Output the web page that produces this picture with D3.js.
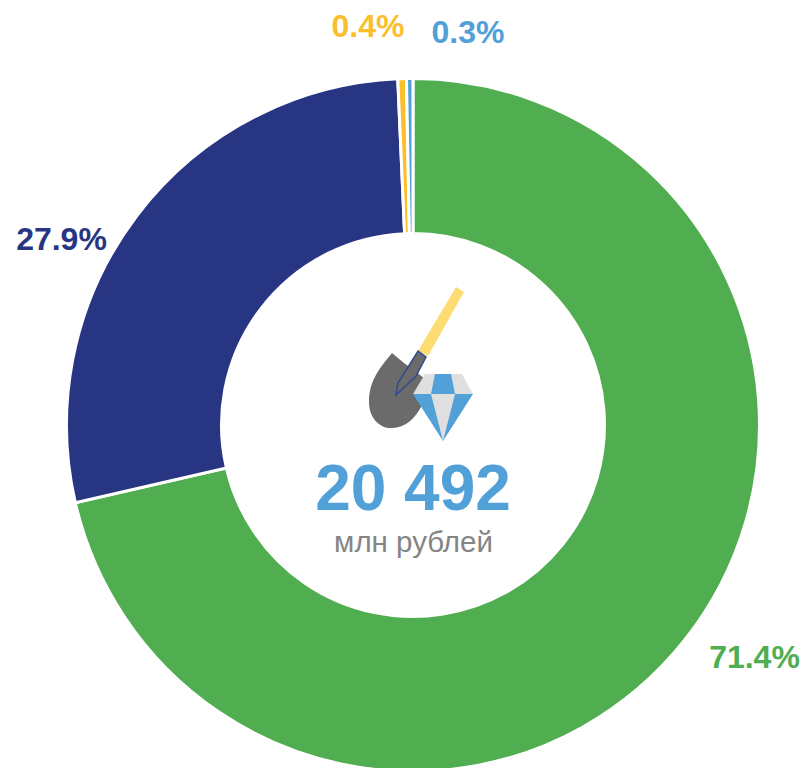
<!DOCTYPE html>
<html>
<head>
<meta charset="utf-8">
<script src="https://cdn.jsdelivr.net/npm/d3@7"></script>
<style>
  html, body { margin: 0; padding: 0; background: #fff; }
  svg { display: block; }
  text { font-family: "Liberation Sans", Arial, sans-serif; }
</style>
</head>
<body>
<div id="chart"></div>
<script>
const shares = [71.4, 27.9, 0.4, 0.3];
const shareLabels = ['71.4%', '27.9%', '0.4%', '0.3%'];
const sliceColors = ['#50ae50', '#283583', '#fbbf2e', '#52a0d8'];
const totalLabel = '20 492';
const unitLabel = 'млн рублей';

const width = 805, height = 768;
const cx = 413, cy = 425, outer = 346.5, inner = 191.5;
// label anchors, same order as shares
const labelPos = [[754.5, 668], [61.5, 250], [368, 37], [468, 43]];

const svg = d3.select('#chart').append('svg')
    .attr('width', width)
    .attr('height', height);

const pie = d3.pie().sort(null).value(d => d);
const arc = d3.arc().innerRadius(inner).outerRadius(outer);

svg.append('g')
    .attr('transform', 'translate(' + cx + ',' + cy + ')')
    .selectAll('path')
    .data(pie(shares))
    .enter().append('path')
    .attr('d', arc)
    .attr('fill', (d, i) => sliceColors[i])
    .attr('stroke', '#fff')
    .attr('stroke-width', 3);

svg.append('g')
    .selectAll('text')
    .data(shareLabels)
    .enter().append('text')
    .attr('x', (d, i) => labelPos[i][0])
    .attr('y', (d, i) => labelPos[i][1])
    .attr('text-anchor', 'middle')
    .attr('font-size', 32)
    .attr('font-weight', 700)
    .attr('fill', (d, i) => sliceColors[i])
    .text(d => d);

// shovel + diamond icon
const icon = svg.append('g');
icon.append('path').attr('d', 'M456 287 L464 292 L428 356 L418 351 Z').attr('fill', '#fedc74');
icon.append('path')
    .attr('d', 'M392 353 C378 370 369 382 369 402 C369 420 382 429 392 428 C405 428 416 418 422 405 L424 378 L404 363 Z')
    .attr('fill', '#6b6b6b');
icon.append('path')
    .attr('d', 'M418 351 L426 357 L416 376 L396 395 L398 383 Z')
    .attr('fill', '#6b6b6b').attr('stroke', '#2f4a8f').attr('stroke-width', 1.5);
icon.append('path').attr('d', 'M425 374 L462 374 L473 394 L413 394 Z').attr('fill', '#dfdfdf');
icon.append('path').attr('d', 'M435 374 L451 374 L455 394 L431 394 Z').attr('fill', '#52a0d8');
icon.append('path').attr('d', 'M413 394 L473 394 L443 441 Z').attr('fill', '#52a0d8');
icon.append('path').attr('d', 'M431 394 L455 394 L443 441 Z').attr('fill', '#dfdfdf');

svg.append('text')
    .attr('x', 413).attr('y', 510)
    .attr('text-anchor', 'middle')
    .attr('font-size', 64)
    .attr('font-weight', 700)
    .attr('fill', '#52a0d8')
    .text(totalLabel);

svg.append('text')
    .attr('x', 413.5).attr('y', 552)
    .attr('text-anchor', 'middle')
    .attr('font-size', 29.5)
    .attr('fill', '#858585')
    .text(unitLabel);
</script>
</body>
</html>
